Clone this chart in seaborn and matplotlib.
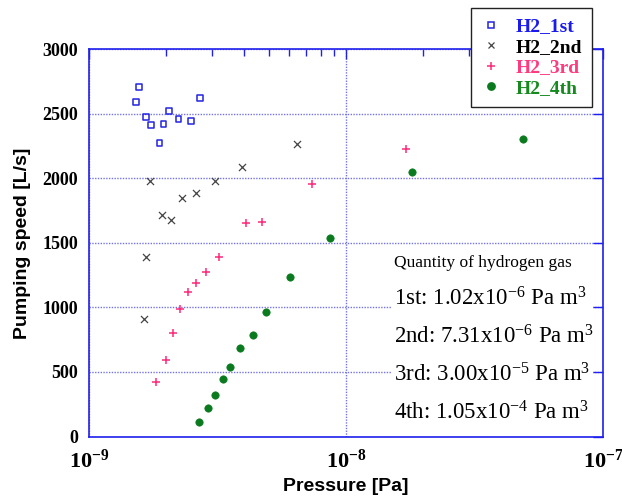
import math
import matplotlib
matplotlib.use("Agg")
import matplotlib.pyplot as plt
import matplotlib.ticker as mticker
from matplotlib.lines import Line2D
from matplotlib.patches import Rectangle
import pandas as pd
import seaborn as sns

# pressure [Pa] / pumping speed [L/s] for each hydrogen dose
p_1st = [1.57e-9, 1.52e-9, 1.66e-9, 1.74e-9, 1.95e-9, 2.04e-9, 1.88e-9, 2.23e-9, 2.49e-9, 2.70e-9]
s_1st = [2706, 2589, 2475, 2413, 2423, 2522, 2272, 2460, 2444, 2621]

p_2nd = [6.43e-9, 3.94e-9, 1.72e-9, 3.10e-9, 2.31e-9, 2.61e-9, 1.92e-9, 2.09e-9, 1.67e-9, 1.63e-9]
s_2nd = [2264, 2088, 1982, 1982, 1848, 1884, 1719, 1677, 1388, 910]

p_3rd = [1.71e-8, 7.39e-9, 4.07e-9, 4.73e-9, 3.21e-9, 2.85e-9, 2.61e-9, 2.43e-9, 2.25e-9, 2.13e-9, 1.99e-9, 1.82e-9]
s_3rd = [2226, 1954, 1652, 1662, 1388, 1275, 1192, 1117, 985, 804, 593, 424]

p_4th = [4.87e-8, 1.81e-8, 8.66e-9, 6.04e-9, 4.88e-9, 4.36e-9, 3.87e-9, 3.54e-9, 3.33e-9, 3.10e-9, 2.90e-9, 2.67e-9]
s_4th = [2308, 2050, 1541, 1236, 962, 787, 682, 537, 444, 325, 217, 116]

labels = ["H2_1st", "H2_2nd", "H2_3rd", "H2_4th"]
quantities = ["1.02x10$^{-6}$", "7.31x10$^{-6}$", "3.00x10$^{-5}$", "1.05x10$^{-4}$"]
ordinals = ["1st", "2nd", "3rd", "4th"]

x_ticks = [1e-9, 1e-8, 1e-7]
y_ticks = [0, 500, 1000, 1500, 2000, 2500, 3000]

sns.set_style("white")
plt.rcParams["mathtext.fontset"] = "custom"
plt.rcParams["mathtext.rm"] = "Liberation Serif"
plt.rcParams["mathtext.it"] = "Liberation Serif:italic"
plt.rcParams["mathtext.bf"] = "Liberation Serif:bold"
plt.rcParams["axes.axisbelow"] = True
plt.rcParams["text.color"] = "black"
plt.rcParams["axes.labelcolor"] = "black"

blue = "#2424e0"
pink = "#ff2a7a"
green = "#0a7a1e"
cross = "#444444"
spine_col = "#2020ee"

df = pd.concat([
    pd.DataFrame({"p": p_1st, "s": s_1st, "run": labels[0]}),
    pd.DataFrame({"p": p_2nd, "s": s_2nd, "run": labels[1]}),
    pd.DataFrame({"p": p_3rd, "s": s_3rd, "run": labels[2]}),
    pd.DataFrame({"p": p_4th, "s": s_4th, "run": labels[3]}),
])

fig = plt.figure(figsize=(6.22, 4.98), dpi=100)
ax = fig.add_axes([89 / 622, 1 - 436.5 / 498, 514 / 622, 387.2 / 498])

d = df[df.run == labels[0]]
sns.scatterplot(data=d, x="p", y="s", ax=ax, marker="s", s=18, facecolor="none",
                edgecolor=blue, linewidth=1.1, zorder=3, legend=False)
d = df[df.run == labels[1]]
sns.scatterplot(data=d, x="p", y="s", ax=ax, marker="x", s=26, color=cross,
                linewidth=0.9, zorder=3, legend=False)
d = df[df.run == labels[2]]
sns.scatterplot(data=d, x="p", y="s", ax=ax, marker="+", s=30, color=pink,
                linewidth=1.1, zorder=3, legend=False)
d = df[df.run == labels[3]]
sns.scatterplot(data=d, x="p", y="s", ax=ax, marker="o", s=28, color=green,
                edgecolor=green, linewidth=0.5, zorder=3, legend=False)

ax.set_xscale("log")
ax.set_xlim(1e-9, 1e-7)
ax.set_ylim(0, 3000)
ax.set_xticks(x_ticks)
ax.xaxis.set_major_formatter(mticker.FuncFormatter(
    lambda v, pos: r"$\mathbf{10^{%d}}$" % round(math.log10(v))))
ax.xaxis.set_minor_locator(mticker.LogLocator(base=10, subs=range(2, 10), numticks=20))
ax.xaxis.set_minor_formatter(mticker.NullFormatter())
ax.set_yticks(y_ticks)
ax.set_yticklabels([str(v) for v in y_ticks], fontfamily="Liberation Serif",
                   fontweight="bold", fontsize=13)
for t in ax.get_xticklabels():
    t.set_fontsize(16)

ax.tick_params(axis="both", which="both", direction="in", top=True, right=True,
               color=spine_col, width=1, labelcolor="black")
ax.tick_params(axis="both", which="major", length=7)
ax.tick_params(axis="both", which="minor", length=5)
ax.tick_params(axis="x", which="major", pad=9)
ax.tick_params(axis="y", which="major", pad=8)

ax.grid(True, which="major", color="#7474e8", linestyle=(0, (1, 1)), linewidth=1)
for sp in ax.spines.values():
    sp.set_color(spine_col)
    sp.set_linewidth(1.2)

ax.set_xlabel("Pressure [Pa]", fontfamily="Liberation Sans", fontweight="bold",
              fontsize=14, labelpad=4, color="black")
ax.set_ylabel("Pumping speed [L/s]", fontfamily="Liberation Sans", fontweight="bold",
              fontsize=14, labelpad=8, color="black")

# white panel behind the dose notes hides the grid there
ax.add_patch(Rectangle((0.59, 0.03), 0.39, 0.46, transform=ax.transAxes,
                       facecolor="white", edgecolor="none", zorder=1))
fig.text(394 / 622, 1 - 266.7 / 498, "Quantity of hydrogen gas",
         fontfamily="Liberation Serif", fontsize=12.5, va="baseline")
baselines = [305.7, 343.3, 381.7, 419]
for o, q, b in zip(ordinals, quantities, baselines):
    fig.text(394 / 622, 1 - b / 498, o + ": " + q + " Pa m$^3$",
             fontfamily="Liberation Serif", fontsize=16.5, va="baseline")

handles = [
    Line2D([], [], ls="none", marker="s", ms=4.2, mfc="none", mec=blue, mew=1.1),
    Line2D([], [], ls="none", marker="x", ms=5, color=cross, mew=0.9),
    Line2D([], [], ls="none", marker="+", ms=5.5, color=pink, mew=1.1),
    Line2D([], [], ls="none", marker="o", ms=5.3, color=green),
]
leg = ax.legend(handles, labels, loc="upper right", bbox_to_anchor=(592 / 622, 1 - 8 / 498),
                bbox_transform=fig.transFigure, borderaxespad=0, fancybox=False,
                framealpha=1, edgecolor="#222222", handlelength=1.0, handletextpad=0.8,
                labelspacing=0.15, borderpad=0.5,
                prop={"family": "Liberation Serif", "weight": "bold", "size": 14})
leg.get_frame().set_linewidth(1.0)
for t, c in zip(leg.get_texts(), ["#1a1aee", "black", "#ff3a80", "#168a1e"]):
    t.set_color(c)
leg.set_zorder(10)

fig.savefig("out.png", dpi=100)
